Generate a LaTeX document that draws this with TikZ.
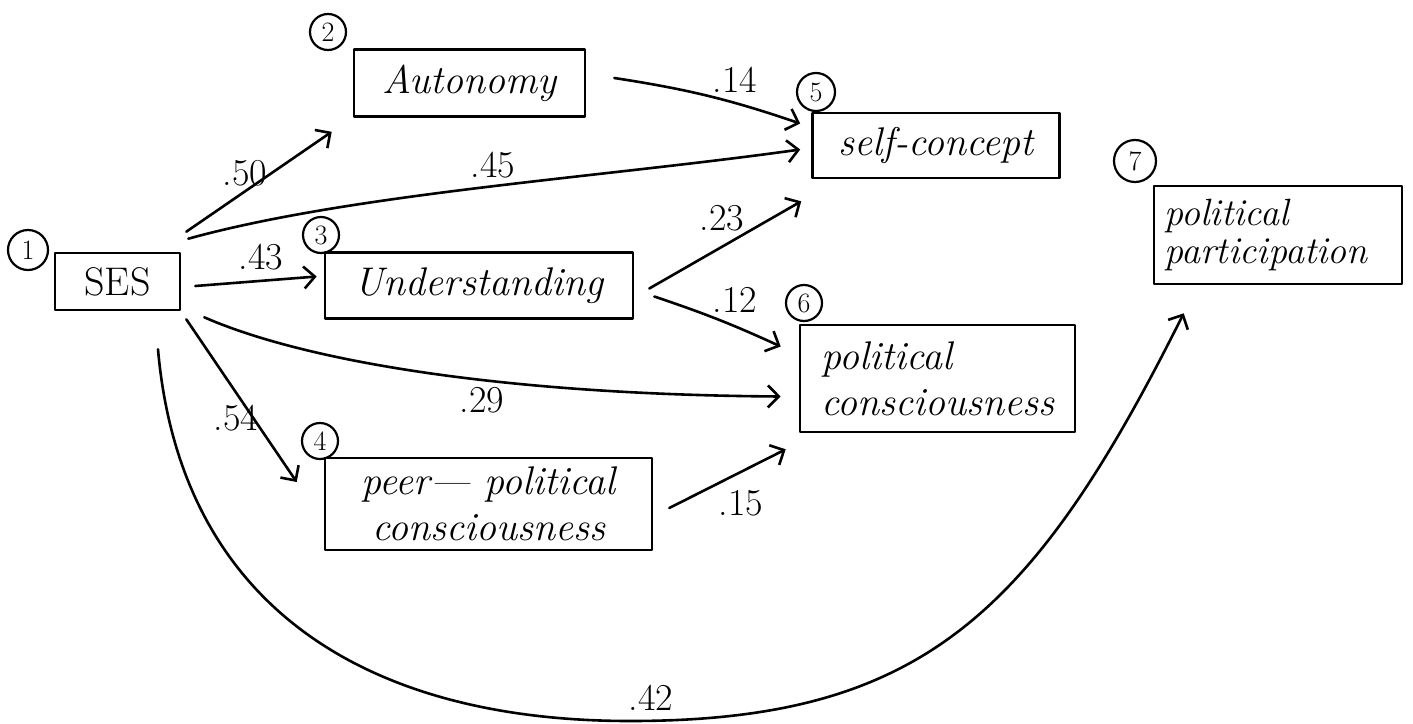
\documentclass[tikz,border=0pt]{standalone}
\usetikzlibrary{arrows.meta,calc}
\begin{document}
\begin{tikzpicture}[x=1pt,y=-1pt,
  box/.style={draw,line width=2.6pt,inner sep=0pt,font=\fontsize{40}{46}\selectfont\itshape,align=center},
  num/.style={draw,circle,line width=2.2pt,inner sep=0pt,minimum size=36pt,font=\fontsize{28}{28}\selectfont},
  lab/.style={font=\fontsize{38}{38}\selectfont,inner sep=0pt},
  arr/.style={line width=2.6pt,-{Straight Barb[length=11pt,width=22pt]}},
  line cap=round, line join=round]
\useasboundingbox (0,0) rectangle (1413,723);

% boxes
\node[box,minimum width=125pt,minimum height=57pt,font=\fontsize{40}{46}\selectfont\upshape] (ses) at (117.5,281.5) {SES};
\node[box,minimum width=231pt,minimum height=67pt] (aut) at (469.5,83) {Autonomy};
\node[box,minimum width=247pt,minimum height=65pt] (self) at (936,145.5) {self-concept};
\node[box,minimum width=308pt,minimum height=66pt] (und) at (479,285.5) {Understanding};
\node[box,minimum width=275pt,minimum height=107pt,align=left] (polc) at (937.5,378.5) {political\\consciousness};
\node[box,minimum width=327pt,minimum height=92pt] (peer) at (488.5,504) {peer--- political\\consciousness};
\node[box,inner xsep=10pt,text width=228pt,minimum height=98pt,align=left,font=\fontsize{38}{38}\selectfont\itshape] (polp) at (1278,235) {political\\participation};

% numbers
\node[num,minimum size=40pt] (c1) at (28,250) {1};
\node[num] (c2) at (328,32) {2};
\node[num] (c3) at (321,235) {3};
\node[num] (c4) at (320,441) {4};
\node[num,minimum size=38pt] (c5) at (816,92) {5};
\node[num] (c6) at (804,303) {6};
\node[num,minimum size=42pt] (c7) at (1135,161) {7};

% connectors
\draw[arr] ($(ses.north east)+(5,-20)$) -- ($(aut.south west)+(-21,14)$);
\draw[arr] ($(ses.north east)+(7,-13)$) .. controls +(163,-45) and +(-200,28) .. ($(self.west)+(-11,4)$);
\draw[arr] ($(ses.east)+(14,4.5)$) -- ($(und.west)+(-7,-9)$);
\draw[arr] ($(ses.south east)+(23,6)$) .. controls +(98,43) and +(-283,-2) .. ($(polc.west)+(-18,18)$);
\draw[arr] ($(ses.south east)+(5,8)$) -- ($(peer.west)+(-27,-22)$);
\coordinate (low) at (630,721);
\draw[arr] ($(ses.south)+(40.5,38)$) .. controls +(22,252) and +(-270,0) .. (low) .. controls +(291,0) and +(-151,302) .. ($(polp.south west)+(31,28)$);
\draw[arr] ($(aut.east)+(28,-5)$) to[bend left=5] ($(self.west)+(-11,-22)$);
\draw[arr] ($(und.east)+(15,3)$) -- ($(self.south west)+(-10,22)$);
\draw[arr] ($(und.east)+(20,11)$) to[bend left=3] ($(polc.west)+(-18,-32)$);
\draw[arr] ($(peer.east)+(16,4)$) -- ($(polc.south west)+(-13,16)$);

% labels
\node[lab] (l50) at (245,173) {.50};
\node[lab] (l45) at (493,165) {.45};
\node[lab] (l43) at (261,257) {.43};
\node[lab] (l29) at (482,400) {.29};
\node[lab] (l54) at (236,418) {.54};
\node[lab] (l42) at (651,698) {.42};
\node[lab] (l14) at (735,80) {.14};
\node[lab] (l23) at (722,218) {.23};
\node[lab] (l12) at (735,300) {.12};
\node[lab] (l15) at (741,503) {.15};
\end{tikzpicture}
\end{document}
